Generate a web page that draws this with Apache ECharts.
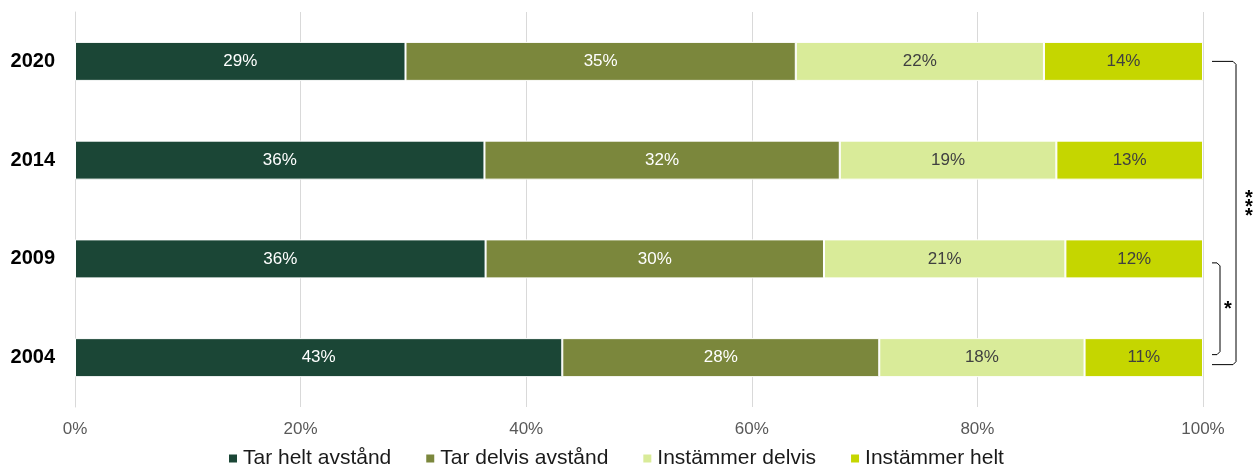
<!DOCTYPE html>
<html>
<head>
<meta charset="utf-8">
<script src="https://cdn.jsdelivr.net/npm/echarts@6/dist/echarts.min.js"></script>
<style>
html,body{margin:0;padding:0;background:#fff;}
#c{width:1254px;height:468px;}
</style>
</head>
<body>
<div id="c"></div>
<script>
const years = ['2004', '2009', '2014', '2020'];
const tarHelt = [43.2, 36.4, 36.3, 29.3];
const tarDelvis = [28.1, 30.0, 31.5, 34.6];
const instDelvis = [18.2, 21.4, 19.2, 22.0];
const instHelt = [10.5, 12.2, 13.0, 14.1];
const seriesNames = ['Tar helt avstånd', 'Tar delvis avstånd', 'Instämmer delvis', 'Instämmer helt'];
const colors = ['#1b4636', '#7b873c', '#d9eb99', '#c5d600'];
const labelColors = ['#ffffff', '#ffffff', '#404040', '#404040'];
const xTicks = [0, 20, 40, 60, 80, 100];

const FONT = '"Liberation Sans", Arial, sans-serif';
const chart = echarts.init(document.getElementById('c'));
const allData = [tarHelt, tarDelvis, instDelvis, instHelt];

const option = {
  animation: false,
  textStyle: { fontFamily: FONT },
  grid: { left: 75, right: 51, top: 12, bottom: 61, containLabel: false },
  legend: {
    data: seriesNames,
    left: 222,
    top: 443,
    icon: 'rect',
    itemWidth: 10,
    itemHeight: 10,
    itemGap: 33,
    textStyle: { fontFamily: FONT, fontSize: 21, color: '#1a1a1a' }
  },
  xAxis: {
    type: 'value',
    min: xTicks[0],
    max: xTicks[xTicks.length - 1],
    interval: 20,
    axisLine: { show: false },
    axisTick: { show: false },
    splitLine: { show: true, lineStyle: { color: '#d9d9d9', width: 1 } },
    axisLabel: { formatter: '{value}%', fontFamily: FONT, fontSize: 17, color: '#595959', margin: 14 }
  },
  yAxis: {
    type: 'category',
    data: years,
    axisLine: { show: true, lineStyle: { color: '#d9d9d9' } },
    axisTick: { show: false },
    axisLabel: { fontFamily: FONT, fontSize: 20, fontWeight: 'bold', color: '#000', margin: 20 }
  },
  series: seriesNames.map((name, i) => ({
    name: name,
    type: 'bar',
    stack: 'total',
    barWidth: 39,
    data: allData[i],
    itemStyle: { color: colors[i], borderColor: '#ffffff', borderWidth: 1 },
    label: {
      show: true,
      position: 'inside',
      formatter: p => Math.round(p.value) + '%',
      fontFamily: FONT,
      fontSize: 17,
      color: labelColors[i]
    }
  }))
};
chart.setOption(option);

function drawBrackets() {
  const x100 = chart.convertToPixel({ xAxisIndex: 0 }, 100);
  const y2020 = chart.convertToPixel({ yAxisIndex: 0 }, '2020');
  const y2009 = chart.convertToPixel({ yAxisIndex: 0 }, '2009');
  const y2004 = chart.convertToPixel({ yAxisIndex: 0 }, '2004');
  function bracket(x0, x1, yt, yb) {
    const r = 3;
    return {
      type: 'polyline',
      shape: { points: [[x0, yt], [x1 - r, yt], [x1, yt + r], [x1, yb - r], [x1 - r, yb], [x0, yb]] },
      style: { stroke: '#000', lineWidth: 1, fill: null }
    };
  }
  const bigTop = y2020, bigBot = y2004 + 7;
  const smTop = y2009 + 4, smBot = y2004 - 3;
  const bigMid = (bigTop + bigBot) / 2;
  const smMid = (smTop + smBot) / 2;
  const star = (x, y) => ({
    type: 'text',
    x: x, y: y,
    style: { text: '*', fontFamily: FONT, fontSize: 20, fontWeight: 'bold', fill: '#000', align: 'center', verticalAlign: 'middle' }
  });
  chart.setOption({
    graphic: [
      bracket(x100 + 9, x100 + 33, bigTop, bigBot),
      bracket(x100 + 9, x100 + 17, smTop, smBot),
      star(x100 + 46, bigMid - 19 + 4),
      star(x100 + 46, bigMid - 10 + 4),
      star(x100 + 46, bigMid - 1 + 4),
      star(x100 + 25, smMid + 1)
    ]
  });
}
drawBrackets();
</script>
</body>
</html>
